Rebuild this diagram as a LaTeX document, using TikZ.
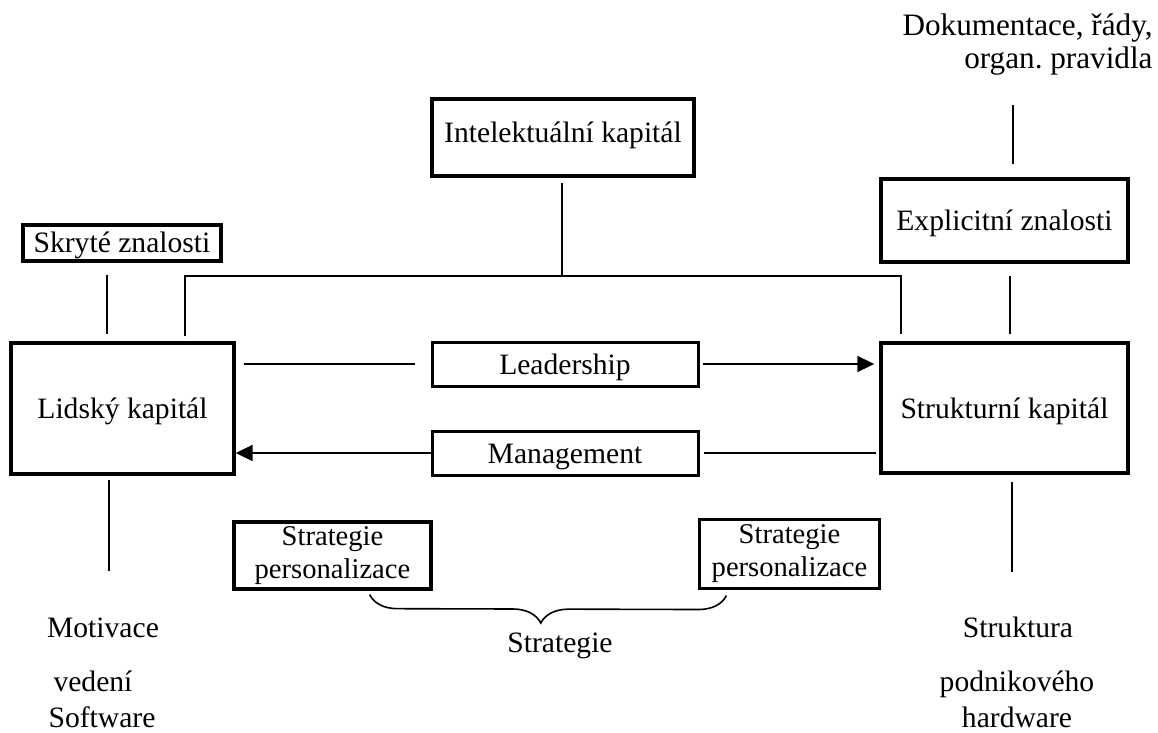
\documentclass[tikz,border=0pt]{standalone}
\usepackage{fontspec}
\setmainfont{Liberation Serif}
\usetikzlibrary{arrows.meta,decorations.pathreplacing,calc}
\begin{document}
\begin{tikzpicture}[x=0.5pt,y=-0.5pt,
  box/.style={draw, line width=1.7pt, inner sep=0pt,
    font=\fontsize{14.8}{17}\selectfont, text height=11pt, text depth=1pt},
  midbox/.style={box, line width=1.5pt},
  stratbox/.style={draw, line width=1.6pt, inner sep=0pt, align=center,
    font=\fontsize{14.3}{16.5}\selectfont},
  lbl/.style={inner sep=0pt, anchor=base, font=\fontsize{14.8}{17}\selectfont},
  doklbl/.style={inner sep=0pt, anchor=base east, font=\fontsize{15.6}{17}\selectfont},
  link/.style={line width=0.95pt},
  tip/.style={-{Triangle[length=8.5pt,width=8pt]}}
]
\useasboundingbox (0,0) rectangle (1158,733);

% boxes
\node[box, minimum width=131pt, minimum height=38.5pt, text depth=5.7pt] (intel) at (563,137.5) {Intelektuální kapitál};
\node[box, minimum width=99pt, minimum height=18pt] (skryte) at (122,243) {Skryté znalosti};
\node[box, minimum width=123.5pt, minimum height=41.5pt] (expl) at (1004.5,220.5) {Explicitní znalosti};
\node[box, minimum width=111.5pt, minimum height=65.5pt] (lidsky) at (122.5,408.5) {Lidský kapitál};
\node[box, minimum width=123.5pt, minimum height=65pt] (strukt) at (1004.5,408) {Strukturní kapitál};
\node[midbox, minimum width=133pt, minimum height=22pt] (lead) at (565,364) {Leadership};
\node[midbox, minimum width=133pt, minimum height=22pt] (mgmt) at (565,453) {Management};
\node[stratbox, minimum width=98.5pt, minimum height=33.5pt] (strat1) at (332.5,555.5) {Strategie\\personalizace};
\node[stratbox, line width=1.1pt, minimum width=90pt, minimum height=34.5pt] (strat2) at (789.5,554) {Strategie\\personalizace};

% free labels
\node[doklbl] (dok1) at (1153,36) {Dokumentace, řády,};
\node[doklbl] (dok2) at (1153,69) {organ.\ pravidla};
\node[lbl] (motiv) at (103,637) {Motivace};
\node[lbl] (vedeni) at (93,691) {vedení};
\node[lbl] (soft) at (102,727) {Software};
\node[lbl] (struktura) at (1018,637) {Struktura};
\node[lbl] (podnik) at (1017,691) {podnikového};
\node[lbl] (hw) at (1017,727) {hardware};
\node[lbl] (strat) at (560,652) {Strategie};

% vertical links
\draw[link] ($(skryte.south)+(-15,12)$) -- ($(lidsky.north)+(-15.5,-7)$);
\draw[link] ($(expl.north)+(8.5,-13)$) -- ($(dok2.base east)+(-140,36)$);
\draw[link] ($(expl.south)+(5.5,12)$) -- ($(strukt.north)+(5.5,-7)$);
\draw[link] ($(intel.south)+(-1,5)$) -- ($(intel.south)+(-1,98)$);
\draw[link] ($(lidsky.north)+(62.5,-5)$) |- ($(intel.south)+(0,98)$) -| ($(strukt.north)+(-103.5,-7)$);
\draw[link] ($(lidsky.south)+(-13.5,4)$) -- ($(lidsky.south |- motiv.north)+(-13.5,-46)$);
\draw[link] ($(strukt.south)+(7.5,7)$) -- ($(strukt.south |- struktura.north)+(7.5,-44)$);

% leadership and management
\draw[link] ($(lidsky.east |- lead.west)+(8,0)$) -- ($(lead.west)+(-16,0)$);
\draw[link,tip] ($(lead.east)+(3,0)$) -- ($(lead.east -| strukt.west)+(-5,0)$);
\draw[link] ($(mgmt.east)+(4,0)$) -- ($(mgmt.east -| strukt.west)+(-3,0)$);
\draw[link,tip] (mgmt.west) -- (mgmt.west -| lidsky.east);

% strategy brace
\draw[line width=0.8pt, decorate, decoration={brace, mirror, amplitude=14pt, aspect=0.48}]
  ($(strat1.south east)+(-63,4)$) -- ($(strat2.south west)+(28,6)$);
\end{tikzpicture}
\end{document}
